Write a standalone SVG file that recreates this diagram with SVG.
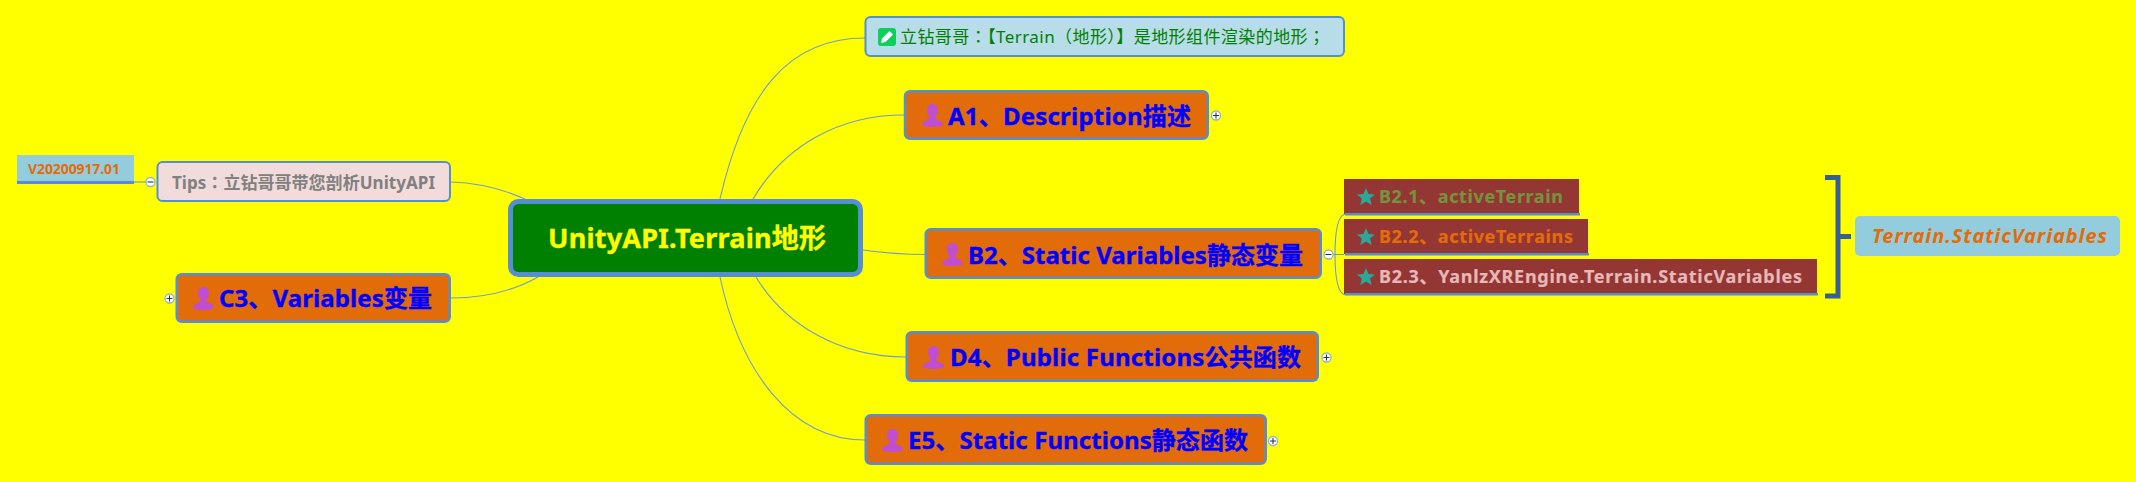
<svg xmlns="http://www.w3.org/2000/svg" width="2136" height="482" viewBox="0 0 2136 482">
<style>
text{font-family:"Noto Sans","Noto Sans CJK SC","Liberation Sans",sans-serif;font-weight:700}
.tc{font-family:"Noto Sans CJK TC",sans-serif}
.box{stroke:#558ed5;stroke-width:2}
.org{fill:#e26b0a;stroke:#558ed5;stroke-width:2.5}
.head{font-size:24px;fill:#0000ff;stroke:#0000ff;stroke-width:.35}
.sub{font-size:18px;stroke-width:.2}
.lnk{fill:none;stroke:#6f9bd1;stroke-width:1.1}
.tog{fill:#fff;stroke:#8db3e2;stroke-width:1.3}
.sgn{stroke:#333;stroke-width:1.1;fill:none}
.bar{fill:#558ed5}
.dk{fill:#943634}
</style>
<defs>
<symbol id="person" viewBox="0 0 21 23" overflow="visible"><path fill="#bf4fd0" d="M10.5 0C14 0 16 2.6 16 6C16 9 14.6 11.4 13.4 12.8C13.4 14.6 15 15.6 17 16.5C19 17.4 21 18.5 21 20.3C21 22.2 16 23 10.5 23C5 23 0 22.2 0 20.3C0 18.5 2 17.4 4 16.5C6 15.6 7.6 14.6 7.6 12.8C6.4 11.4 5 9 5 6C5 2.6 7 0 10.5 0Z"/></symbol>
<symbol id="star" viewBox="-9 -9 18 18" overflow="visible"><path fill="#2aa89a" d="M0 -9L2.6 -2.9L9 -2.6L4.1 1.5L5.7 8L0 4.4L-5.7 8L-4.1 1.5L-9 -2.6L-2.6 -2.9Z"/></symbol>
</defs>
<rect width="2136" height="482" fill="#ffff00"/>
<g id="connectors">
<path class="lnk" d="M720 199C745 90 790 38 865 38"/>
<path class="lnk" d="M753 199C785 145 840 115 904 115"/>
<path class="lnk" d="M863 250C885 253 905 254.500 925 254.500"/>
<path class="lnk" d="M756 277C785 325 840 357 906 357"/>
<path class="lnk" d="M720 277C740 370 790 440 865 440"/>
<path class="lnk" d="M451 182C480 183 505 190 525 199"/>
<path class="lnk" d="M451 298C485 298 515 290 538 277"/>
<path class="lnk" d="M134 182H146"/>
<path class="lnk" d="M1333 254.500H1344"/>
<path class="lnk" d="M1345 214C1337 216 1335 235 1335 254.500C1335 274 1337 293 1345 295"/>
</g>
<g id="version"><rect x="17" y="155" width="117" height="29" fill="#93cddd"/><rect class="bar" x="17" y="181" width="117" height="3"/><text x="28" y="174" font-size="14" fill="#e36c0a" textLength="92">V20200917.01</text></g>
<g id="tips"><rect class="box" x="157.500" y="162" width="292.500" height="39" rx="5" fill="#f2dcdb"/><text x="172" y="189" font-size="17" fill="#808080" textLength="263">Tips<tspan class="tc">：</tspan>立钻哥哥带您剖析UnityAPI</text>
<circle class="tog" cx="150.500" cy="182" r="4.500"/><path class="sgn" d="M147.500 182H153.500"/></g>
<g id="c3"><rect class="org" x="176.750" y="274.250" width="273" height="47.500" rx="5"/><use href="#person" x="193" y="287" width="21" height="23"/><text class="head" x="219" y="307" textLength="213">C3、Variables变量</text>
<circle class="tog" cx="169.500" cy="298.500" r="4.500"/><path class="sgn" d="M166.500 298.500H172.500M169.500 295.500V301.500"/></g>
<g id="root"><rect x="510.500" y="201.500" width="350" height="73" rx="8" fill="#008000" stroke="#558ed5" stroke-width="5"/><text x="548" y="248" font-size="27" fill="#ffff00" stroke="#ffff00" stroke-width=".35" textLength="278">UnityAPI.Terrain地形</text></g>
<g id="note"><rect class="box" x="865.500" y="17" width="478.500" height="39" rx="5" fill="#b7dde8"/><rect x="878" y="28" width="18" height="18" rx="3" fill="#0ccf5c"/><path fill="#fff" d="M881 43L882 38.500L889.500 31L893 34.500L885.500 42Z"/><text x="900" y="43" font-size="17" fill="#008000" style="font-weight:400" textLength="425">立钻哥哥<tspan class="tc">：</tspan>【Terrain<tspan class="tc">（</tspan>地形<tspan class="tc">）</tspan>】是地形组件渲染的地形<tspan class="tc">；</tspan></text></g>
<g id="a1"><rect class="org" x="905" y="91.250" width="302.750" height="47.500" rx="5"/><use href="#person" x="922" y="104" width="21" height="23"/><text class="head" x="948" y="125" textLength="243">A1、Description描述</text>
<circle class="tog" cx="1216" cy="115.500" r="4.500"/><path class="sgn" d="M1213 115.500H1219M1216 112.500V118.500"/></g>
<g id="b2"><rect class="org" x="925.750" y="229.250" width="395" height="48.500" rx="5"/><use href="#person" x="942" y="243" width="21" height="23"/><text class="head" x="968" y="264" textLength="335">B2、Static Variables静态变量</text>
<circle class="tog" cx="1328.500" cy="254.500" r="4.500"/><path class="sgn" d="M1325.500 254.500H1331.500"/></g>
<g id="b21"><rect class="dk" x="1344" y="179" width="235" height="35"/><rect class="bar" x="1345" y="213" width="235" height="2.500"/><use href="#star" x="1357" y="188" width="18" height="18"/><text class="sub" x="1379" y="203" fill="#76923c" stroke="#76923c" textLength="184">B2.1、activeTerrain</text></g>
<g id="b22"><rect class="dk" x="1344" y="219" width="244" height="35"/><rect class="bar" x="1345" y="253" width="244" height="2.500"/><use href="#star" x="1357" y="228" width="18" height="18"/><text class="sub" x="1379" y="243" fill="#e36c0a" stroke="#e36c0a" textLength="194">B2.2、activeTerrains</text></g>
<g id="b23"><rect class="dk" x="1344" y="259" width="473" height="35"/><rect class="bar" x="1345" y="293" width="473" height="2.500"/><use href="#star" x="1357" y="268" width="18" height="18"/><text class="sub" x="1379" y="283" fill="#e6b8b7" stroke="#e6b8b7" textLength="423">B2.3、YanlzXREngine.Terrain.StaticVariables</text></g>
<g id="bracket"><path d="M1825 177.500H1838V296H1825M1838 236.500H1851" fill="none" stroke="#366092" stroke-width="5"/></g>
<g id="summary"><rect x="1855" y="216" width="265" height="40" rx="5" fill="#93cddd"/><text x="1872" y="243" font-size="20" fill="#e36c0a" style="font-style:italic" textLength="235">Terrain.StaticVariables</text></g>
<g id="d4"><rect class="org" x="906.750" y="332.250" width="411" height="48.500" rx="5"/><use href="#person" x="923" y="346" width="21" height="23"/><text class="head" x="950" y="366" textLength="351">D4、Public Functions公共函数</text>
<circle class="tog" cx="1326.500" cy="357.500" r="4.500"/><path class="sgn" d="M1323.500 357.500H1329.500M1326.500 354.500V360.500"/></g>
<g id="e5"><rect class="org" x="865.750" y="415.250" width="400" height="48.500" rx="5"/><use href="#person" x="882" y="429" width="21" height="23"/><text class="head" x="908" y="449" textLength="340">E5、Static Functions静态函数</text>
<circle class="tog" cx="1273" cy="441" r="4.500"/><path class="sgn" d="M1270 441H1276M1273 438V444"/></g>
</svg>
